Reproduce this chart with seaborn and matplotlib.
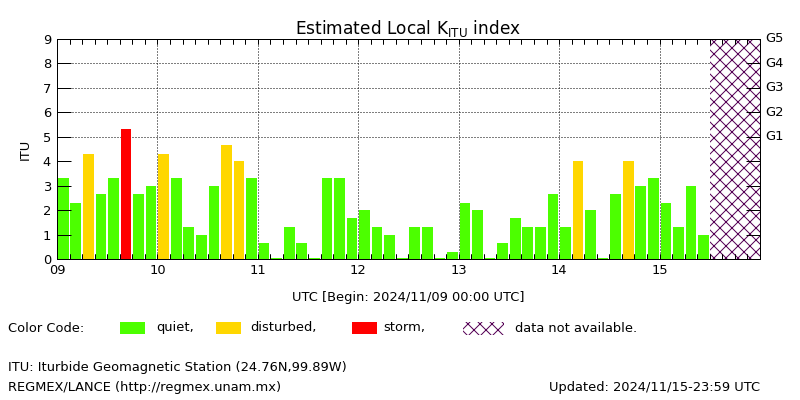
import matplotlib
matplotlib.use("Agg")
import matplotlib.pyplot as plt
import matplotlib.patches as mpatches
import matplotlib.transforms as mtransforms
import seaborn as sns
import pandas as pd
import numpy as np

# ---------------- data ----------------
day_labels = ["09", "10", "11", "12", "13", "14", "15"]
first_day = 9
slots_per_day = 8
k_values = [3.3, 2.3, 4.3, 2.67, 3.3, 5.3, 2.67, 3.0,
            4.3, 3.3, 1.3, 1.0, 3.0, 4.67, 4.0, 3.3,
            0.67, 0.05, 1.3, 0.67, 0.05, 3.3, 3.3, 1.67,
            2.0, 1.3, 1.0, 0.05, 1.3, 1.3, 0.05, 0.3,
            2.3, 2.0, 0.05, 0.67, 1.67, 1.3, 1.3, 2.67,
            1.3, 4.0, 2.0, 0.05, 2.67, 4.0, 3.0, 3.3,
            2.3, 1.3, 3.0, 1.0]
categories = ["quiet", "quiet", "disturbed", "quiet", "quiet", "storm", "quiet", "quiet",
              "disturbed", "quiet", "quiet", "quiet", "quiet", "disturbed", "disturbed", "quiet",
              "quiet", "quiet", "quiet", "quiet", "quiet", "quiet", "quiet", "quiet",
              "quiet", "quiet", "quiet", "quiet", "quiet", "quiet", "quiet", "quiet",
              "quiet", "quiet", "quiet", "quiet", "quiet", "quiet", "quiet", "quiet",
              "quiet", "disturbed", "quiet", "quiet", "quiet", "disturbed", "quiet", "quiet",
              "quiet", "quiet", "quiet", "quiet"]
no_data_from = 15.5   # 2024/11/15 12:00 UTC onward
no_data_to = 16.0
g_levels = [5, 6, 7, 8, 9]
g_labels = ["G1", "G2", "G3", "G4", "G5"]

palette = {"quiet": "#4cff00", "disturbed": "#ffd700", "storm": "#ff0000"}
hatch_color = "#550055"

# ---------------- figure ----------------
DPI = 72
sns.set_theme(style="ticks")
plt.rcParams["font.family"] = ["DejaVu Sans"]
plt.rcParams["mathtext.fontset"] = "dejavusans"
plt.rcParams["hatch.linewidth"] = 1.0
plt.rcParams["hatch.color"] = hatch_color
for k in ["xtick.color", "ytick.color", "xtick.labelcolor", "ytick.labelcolor",
          "text.color", "axes.labelcolor", "axes.edgecolor"]:
    plt.rcParams[k] = "black"

fig = plt.figure(figsize=(800 / DPI, 400 / DPI), dpi=DPI)
fig.patch.set_facecolor("white")
L, R, T, B = 57, 760, 39, 259
ax = fig.add_axes([L / 800, 1 - B / 400, (R - L) / 800, (B - T) / 400])
ax.set_facecolor("white")

times = [first_day + (i + 0.5) / slots_per_day for i in range(len(k_values))]
df = pd.DataFrame({"time": times, "K": k_values, "cat": categories})

sns.barplot(data=df, x="time", y="K", hue="cat", palette=palette,
            native_scale=True, width=0.85, dodge=False, saturation=1,
            errorbar=None, linewidth=0, legend=False, ax=ax, zorder=2)

# no data region
ax.axvspan(no_data_from, no_data_to, facecolor="white", edgecolor=hatch_color,
           hatch="xx", linewidth=0, zorder=1.5)

ax.set_xlim(first_day, first_day + len(day_labels))
ax.set_ylim(0, 9)

# dotted grid
for d in range(first_day + 1, first_day + len(day_labels)):
    ax.axvline(d, color="black", lw=1, ls=(0, (1, 2)), zorder=1)
for g in g_levels[:-1]:
    ax.axhline(g, color="black", lw=1, ls=(0, (1, 2)), zorder=1)

ax.set_axisbelow(False)
for s in ax.spines.values():
    s.set_color("black")
    s.set_linewidth(1)
    s.set_visible(True)

# x ticks
day_pos = list(range(first_day, first_day + len(day_labels)))
slot_pos = np.arange(first_day, first_day + len(day_labels) + 0.001, 1 / slots_per_day)
ax.set_xticks(day_pos)
ax.set_xticklabels(day_labels)
ax.set_xticks(slot_pos, minor=True)
ax.tick_params(axis="x", which="both", direction="in", top=True, bottom=True,
               length=5, width=1, color="black", labelsize=13, pad=5)
# explicit short inward tick marks every 3 hours (top and bottom edges)
trans_xa = mtransforms.blended_transform_factory(ax.transData, ax.transAxes)
inner = slot_pos[1:-1]
tick_frac = 5 / (B - T)
ax.vlines(inner, 0, tick_frac, transform=trans_xa, colors="black", lw=1, zorder=4)
ax.vlines(inner, 1 - tick_frac, 1, transform=trans_xa, colors="black", lw=1, zorder=4)

# y ticks (both sides, labels left)
ax.set_yticks(range(0, 10))
ax.tick_params(axis="y", which="major", direction="in", left=True, right=True,
               labelleft=True, labelright=False,
               length=14, width=1, color="black", labelsize=13, pad=6)
ax.tick_params(axis="y", which="minor", left=False, right=False)

# G-scale labels on the right side
trans = mtransforms.blended_transform_factory(ax.transAxes, ax.transData)
for g, lab in zip(g_levels, g_labels):
    ax.text(1 + 5 / (R - L), g, lab, transform=trans, fontsize=13,
            ha="left", va="center", clip_on=False)

ax.set_xlabel("UTC [Begin: 2024/11/09 00:00 UTC]", fontsize=13)
ax.xaxis.set_label_coords(0.5, (B - 297) / (B - T))
ax.xaxis.label.set_va("center")
ax.set_ylabel("ITU", fontsize=13)
ax.yaxis.set_label_coords((25 - L) / (R - L), 0.5)
ax.yaxis.label.set_va("center")

ax.set_title(r"Estimated Local K$_{\mathrm{ITU}}$ index", fontsize=17, pad=5)

# legend row
fs = 13
ty = 1 - 328 / 400
fig.text(8 / 800, ty, "Color Code:", fontsize=fs, va="center", ha="left")
for x0, key, lab, lx in [(120, "quiet", "quiet,", 156),
                         (216, "disturbed", "disturbed,", 250),
                         (352, "storm", "storm,", 383)]:
    fig.add_artist(mpatches.Rectangle((x0 / 800, 1 - 334 / 400), 25 / 800, 12 / 400,
                                      transform=fig.transFigure, facecolor=palette[key],
                                      edgecolor="none", lw=0))
    fig.text(lx / 800, ty, lab, fontsize=fs, va="center", ha="left")
fig.add_artist(mpatches.Rectangle((463 / 800, 1 - 335 / 400), 41 / 800, 13 / 400,
                                  transform=fig.transFigure, facecolor="white",
                                  edgecolor=hatch_color, hatch="xx", lw=0))
fig.text(515 / 800, ty, "data not available.", fontsize=fs, va="center", ha="left")

fig.text(8 / 800, 1 - 367 / 400, "ITU: Iturbide Geomagnetic Station (24.76N,99.89W)",
         fontsize=fs, va="center", ha="left")
fig.text(8 / 800, 1 - 388 / 400, "REGMEX/LANCE (http://regmex.unam.mx)",
         fontsize=fs, va="center", ha="left")
fig.text(760 / 800, 1 - 388 / 400, "Updated: 2024/11/15-23:59 UTC",
         fontsize=fs, va="center", ha="right")

fig.savefig("out.png", dpi=DPI, facecolor="white")
